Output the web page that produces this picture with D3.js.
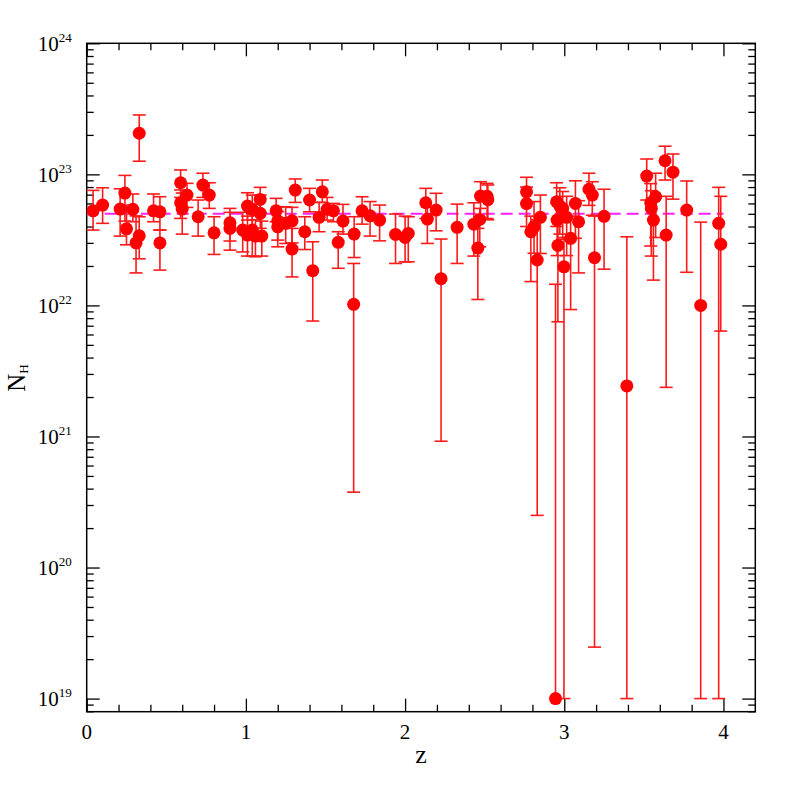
<!DOCTYPE html>
<html><head><meta charset="utf-8">
<script src="https://cdn.jsdelivr.net/npm/d3@7"></script>
<style>body{margin:0;background:#fff}svg{display:block}text{font-family:"Liberation Serif","Times New Roman",serif}</style>
</head><body>
<svg id="c" width="797" height="797"></svg>
<script>
// redshift of each source
const zVals = [0.04,0.10,0.21,0.24,0.25,0.29,0.31,0.33,0.33,0.42,0.46,0.46,0.59,0.59,0.60,0.63,0.70,0.73,0.77,0.80,0.90,0.90,
 0.98,1.01,1.01,1.04,1.04,1.06,1.09,1.09,1.10,1.19,1.20,1.20,1.25,1.29,1.29,1.31,1.37,1.40,1.42,1.46,1.48,1.51,1.55,1.58,1.61,
 1.677,1.68,1.73,1.78,1.84,1.94,2.00,2.02,2.13,2.14,2.195,2.226,2.327,2.432,2.457,2.469,2.474,2.515,2.52,
 2.763,2.763,2.79,2.81,2.83,2.85,2.945,2.952,2.955,2.96,2.972,2.99,2.998,3.015,3.04,3.07,3.09,3.155,3.176,3.19,3.25,3.393,
 3.518,3.543,3.547,3.56,3.574,3.633,3.64,3.683,3.769,3.857,3.97,3.983];
// N_H best value, in units of 1e22 cm^-2
const nhVals = [5.27,5.83,5.43,7.20,3.84,5.41,3.00,3.40,20.6,5.27,5.18,3.00,8.63,6.07,5.43,6.95,4.75,8.28,6.95,3.58,4.27,3.87,
 3.76,3.44,5.73,5.41,3.76,3.38,6.44,5.04,3.38,5.27,4.42,3.98,4.23,4.42,2.69,7.59,3.65,6.37,1.84,4.70,7.36,5.41,5.27,3.03,4.40,
 1.02,3.50,5.27,4.83,4.48,3.48,3.30,3.54,6.07,4.56,5.34,1.60,3.94,4.17,2.74,4.53,6.83,6.8,6.4,
 7.36,5.98,3.65,3.98,2.22,4.70,0.001,6.18,4.48,2.87,5.73,5.5,1.97,4.70,3.25,6.0,4.35,7.7,6.95,2.31,4.78,0.243,
 9.7,6.07,5.5,4.48,6.75,12.7,3.44,10.4,5.34,1.0,4.23,2.93];
// lower end of error bar (1e22)
const nhLo = [3.76,4.23,3.38,4.40,2.90,4.35,1.77,2.27,12.6,4.35,3.76,1.86,6.67,4.61,3.50,5.60,3.38,6.67,5.50,2.45,2.64,3.10,
 2.56,2.38,4.48,3.9,2.38,2.35,5.10,3.87,2.38,4.35,3.15,2.80,2.97,3.00,1.65,6.11,2.67,5.18,0.76,3.65,6.11,4.48,4.35,1.92,3.50,
 0.0376,2.32,4.17,3.38,3.11,2.09,2.15,2.15,4.6,2.97,3.71,0.092,2.09,2.38,1.11,2.8,4.6,4.6,4.5,
 6.0,4.0,1.52,2.5,0.025,2.49,0.001,4.0,2.4,0.75,3.5,3.2,0.001,2.4,0.93,3.25,1.77,5.8,4.88,0.00247,1.89,0.001,
 6.37,2.84,2.38,1.56,3.3,9.05,0.237,6.47,1.79,0.001,0.001,0.637];
// upper end of error bar (1e22)
const nhHi = [7.55,7.90,7.76,9.82,5.83,7.08,4.82,4.75,28.4,7.08,6.75,3.76,10.8,7.6,7.2,8.54,6.37,10.2,8.63,4.75,5.50,5.13,
 5.13,4.8,7.24,6.95,5.0,4.5,7.96,6.95,4.4,6.56,5.6,5.2,5.66,5.60,3.87,9.22,4.75,7.82,3.06,6.11,9.05,6.67,6.0,3.65,5.9,
 2.09,4.75,6.75,6.2,5.83,4.98,4.8,4.75,7.82,5.66,7.17,3.21,5.93,6.07,3.87,5.5,8.79,8.54,8.3,
 9.5,8.0,4.8,6.2,4.5,6.95,1.45,8.63,6.0,4.5,7.9,7.4,3.3,6.8,4.8,8.93,6.3,10.2,8.79,4.8,7.7,3.34,
 13.1,8.5,7.5,6.6,10.2,16.4,6.8,14.3,8.9,4.32,7.96,6.8];
const unit = 1e22;
// mean N_H (dashed line) and its z range
const fitNH = [5.0, 5.0];
const fitZ = [0, 4];
const xMajor = [0,1,2,3,4];
const yExps = [19,20,21,22,23,24];

const m = {l:86.7, r:755.3, t:43.3, b:711.7};
const x = d3.scaleLinear().domain([0,4.2]).range([m.l,m.r]);
const y = d3.scaleLog().domain([Math.pow(10,18.9),1e24]).range([m.b,m.t]);
const svg = d3.select('#c');
svg.append('rect').attr('width',797).attr('height',797).attr('fill','#fff');

const xMinor = d3.range(1,21).map(i=>i*0.2).filter(v=>Math.abs(v-Math.round(v))>1e-6);
const yMinor = [];
for (let e=18;e<=23;e++) for (let k=2;k<=9;k++){const v=k*Math.pow(10,e); if(v>=Math.pow(10,18.9)&&v<=1e24) yMinor.push(v);}
const yMajorVals = yExps.map(e=>Math.pow(10,e));

function ax(gen, tr, vals, size){
  const g = svg.append('g').attr('transform',tr)
    .call(gen.tickValues(vals).tickSize(-size).tickSizeOuter(0).tickFormat(''));
  g.select('.domain').remove();
  g.selectAll('line').attr('stroke','#000').attr('stroke-width',1.3);
  return g;
}
ax(d3.axisBottom(x), `translate(0,${m.b})`, xMajor, 13);
ax(d3.axisBottom(x), `translate(0,${m.b})`, xMinor, 7);
ax(d3.axisTop(x), `translate(0,${m.t})`, xMajor, 13);
ax(d3.axisTop(x), `translate(0,${m.t})`, xMinor, 7);
ax(d3.axisLeft(y), `translate(${m.l},0)`, yMajorVals, 13);
ax(d3.axisLeft(y), `translate(${m.l},0)`, yMinor, 7);
ax(d3.axisRight(y), `translate(${m.r},0)`, yMajorVals, 13);
ax(d3.axisRight(y), `translate(${m.r},0)`, yMinor, 7);

svg.append('rect').attr('x',m.l).attr('y',m.t).attr('width',m.r-m.l).attr('height',m.b-m.t)
  .attr('fill','none').attr('stroke','#000').attr('stroke-width',1.5);

// x tick labels
svg.append('g').selectAll('text').data(xMajor).join('text')
  .attr('x',d=>x(d)).attr('y',m.b+27).attr('text-anchor','middle')
  .attr('font-size',21).text(d=>d);
// y tick labels
const yl = svg.append('g').selectAll('text').data(yExps).join('text')
  .attr('x',m.l-15).attr('y',d=>y(Math.pow(10,d))+7.5).attr('text-anchor','end')
  .attr('font-size',21);
yl.append('tspan').text('10');
yl.append('tspan').attr('font-size',13).attr('dy',-9).text(d=>d);

// axis titles
svg.append('text').attr('x',(m.l+m.r)/2).attr('y',763).attr('text-anchor','middle')
  .attr('font-size',26).text('z');
const yt = svg.append('text').attr('transform','translate(25,378) rotate(-90)').attr('text-anchor','middle')
  .attr('font-size',25);
yt.append('tspan').text('N');
yt.append('tspan').attr('font-size',13).attr('dy',3).text('H');

// dashed mean line
svg.append('line').attr('x1',x(fitZ[0])).attr('x2',x(fitZ[1]))
  .attr('y1',y(fitNH[0]*unit)).attr('y2',y(fitNH[1]*unit))
  .attr('stroke','#ff22ff').attr('stroke-width',2).attr('stroke-dasharray','12,6');

const data = zVals.map((z,i)=>({z, n:nhVals[i]*unit, lo:nhLo[i]*unit, hi:nhHi[i]*unit}));
const eb = svg.append('g').attr('stroke','#ff1a1a').attr('stroke-width',1.6);
data.forEach(d=>{
  const cx = x(d.z);
  eb.append('line').attr('x1',cx).attr('x2',cx).attr('y1',y(d.lo)).attr('y2',y(d.hi));
  eb.append('line').attr('x1',cx-6.5).attr('x2',cx+6.5).attr('y1',y(d.hi)).attr('y2',y(d.hi));
  if (d.lo < d.n) eb.append('line').attr('x1',cx-6.5).attr('x2',cx+6.5).attr('y1',y(d.lo)).attr('y2',y(d.lo));
});
svg.append('g').selectAll('circle').data(data).join('circle')
  .attr('cx',d=>x(d.z)).attr('cy',d=>y(d.n)).attr('r',6.5).attr('fill','#ff0000');
</script>
</body></html>
